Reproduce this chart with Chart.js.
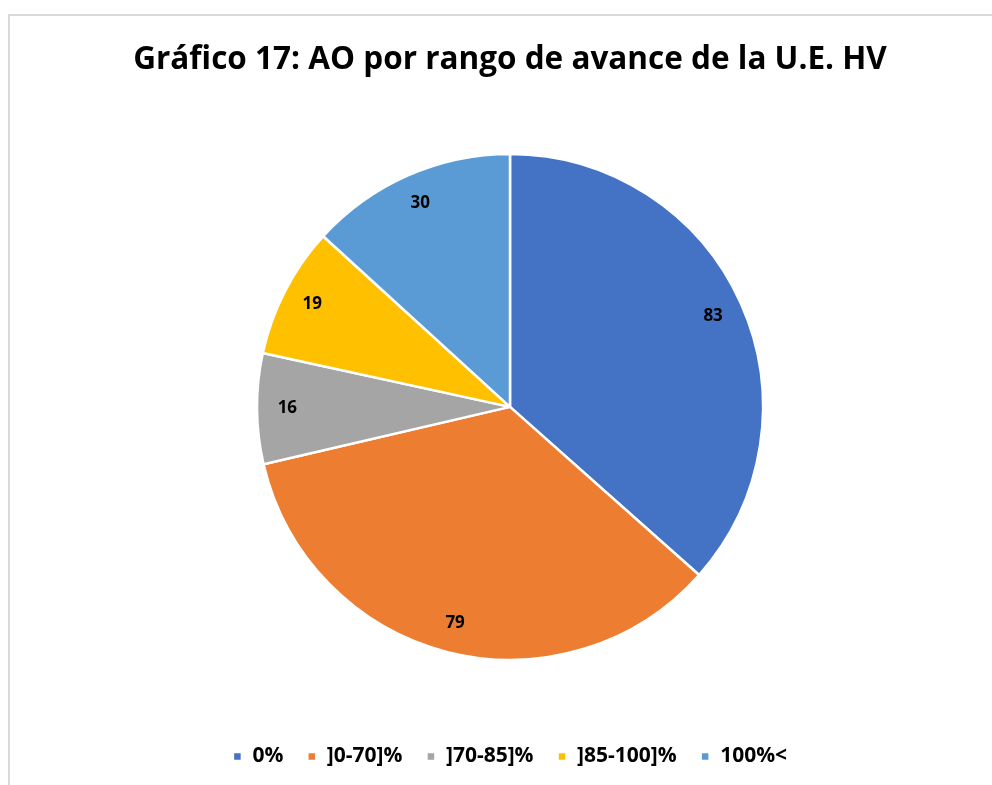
<!DOCTYPE html>
<html>
<head>
<meta charset="utf-8">
<script src="https://cdn.jsdelivr.net/npm/chart.js@4.4.1/dist/chart.umd.min.js"></script>
<style>
  html, body { margin: 0; padding: 0; background: #fff; overflow: hidden; }
  #frame { position: absolute; left: 8px; top: 14px; width: 1000px; height: 800px; border: 2px solid #d9d9d9; }
  #chart { position: absolute; left: 0; top: 0; }
</style>
</head>
<body>
<div id="frame"></div>
<canvas id="chart" width="992" height="785"></canvas>
<script>
const categories = ['0%', ']0-70]%', ']70-85]%', ']85-100]%', '100%<'];
const values = [83, 79, 16, 19, 30];
const colors = ['#4472C4', '#ED7D31', '#A5A5A5', '#FFC000', '#5B9BD5'];
const titleText = 'Gráfico 17: AO por rango de avance de la U.E. HV';

const fontFamily = "'Open Sans', 'Noto Sans', sans-serif";

// etiquetas de datos dentro de cada porción
const sliceLabels = {
    id: 'sliceLabels',
    afterDatasetsDraw(chart) {
        const { ctx } = chart;
        const meta = chart.getDatasetMeta(0);
        ctx.save();
        ctx.font = 'bold 17px ' + fontFamily;
        ctx.fillStyle = '#000';
        ctx.textAlign = 'center';
        ctx.textBaseline = 'middle';
        meta.data.forEach((arc, i) => {
            const mid = (arc.startAngle + arc.endAngle) / 2;
            const r = arc.outerRadius * 0.88;
            ctx.fillText(String(values[i]), arc.x + Math.cos(mid) * r, arc.y + Math.sin(mid) * r);
        });
        ctx.restore();
    }
};

new Chart(document.getElementById('chart'), {
    type: 'pie',
    data: {
        labels: categories,
        datasets: [{
            data: values,
            backgroundColor: colors,
            borderColor: '#fff',
            borderWidth: 2.5
        }]
    },
    options: {
        responsive: false,
        animation: false,
        radius: 253,
        layout: { padding: { left: 28, right: 0, top: 0, bottom: 8 } },
        plugins: {
            title: {
                display: true,
                text: titleText,
                color: '#000',
                font: { family: fontFamily, size: 31.5, weight: 'bold' },
                padding: { top: 41, bottom: 13 }
            },
            legend: {
                position: 'bottom',
                labels: {
                    color: '#000',
                    font: { family: fontFamily, size: 21, weight: 'bold' },
                    boxWidth: 9,
                    boxHeight: 9,
                    padding: 24
                }
            },
            tooltip: { enabled: false }
        }
    },
    plugins: [sliceLabels]
});
</script>
</body>
</html>
